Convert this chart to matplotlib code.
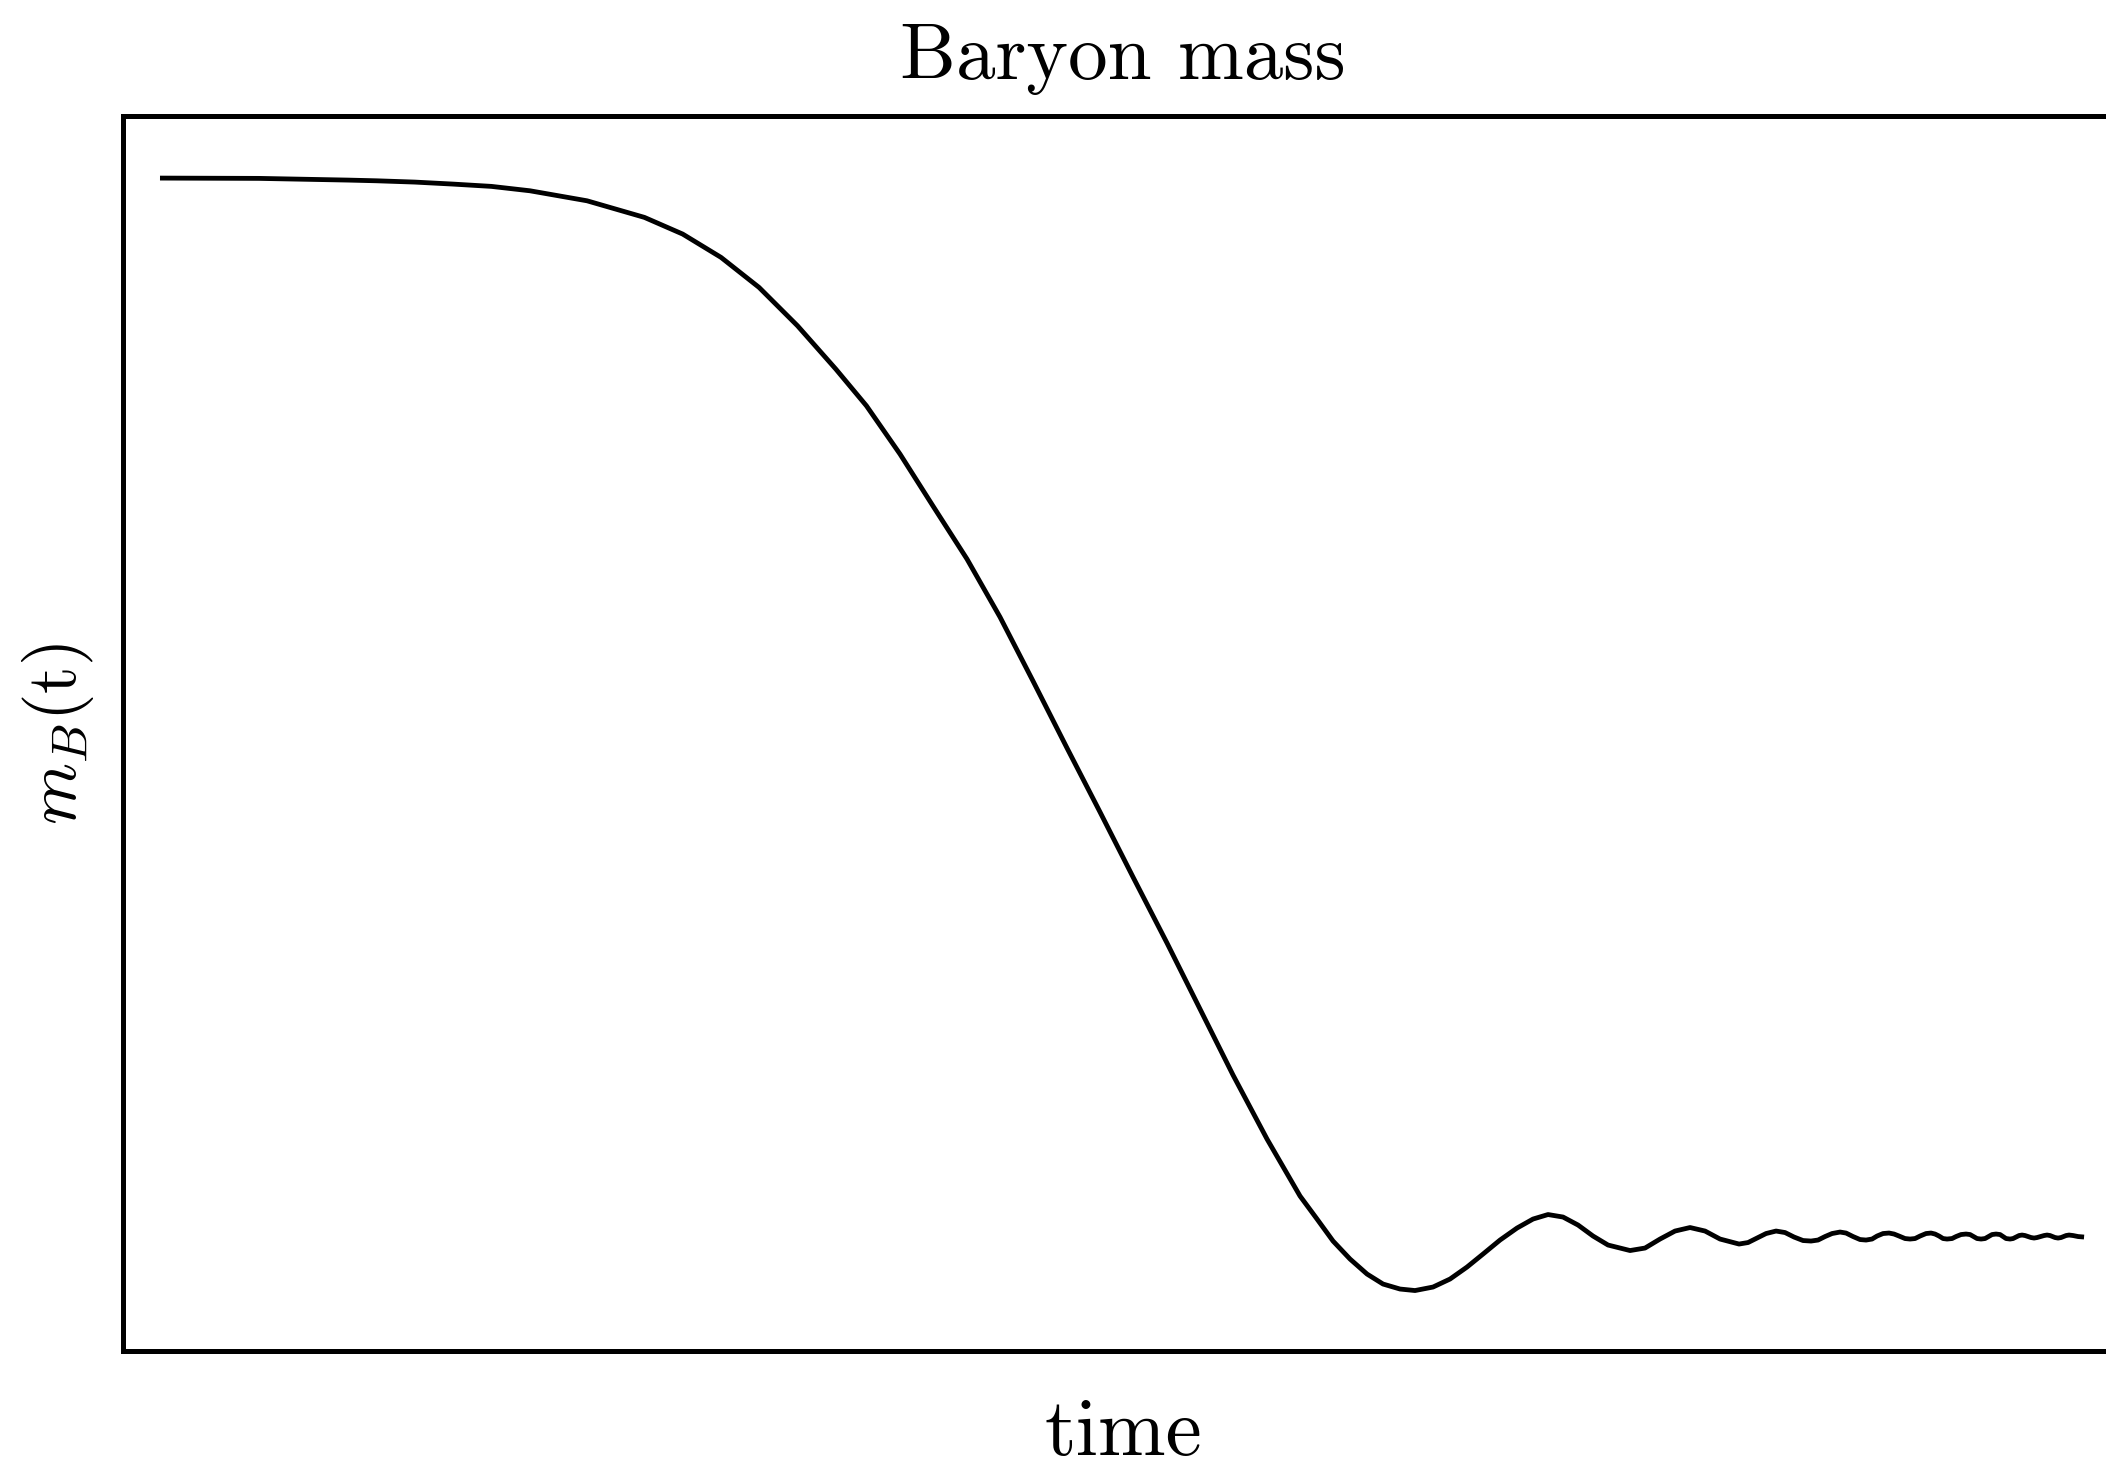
import matplotlib
matplotlib.use("Agg")
import matplotlib.pyplot as plt

plt.rcParams["font.family"] = "serif"
plt.rcParams["font.serif"] = ["cmr10"]
plt.rcParams["mathtext.fontset"] = "cm"
plt.rcParams["axes.unicode_minus"] = False

# baryon mass vs time (arbitrary units)
time = [
    0.0, 4.95, 9.4, 10.825, 12.74, 14.65, 16.57, 18.5, 21.35, 24.22,
    26.135, 28.05, 29.95, 31.875, 33.79, 35.32, 37.0, 38.65, 40.35, 42.0,
    43.65, 45.35, 47.0, 48.65, 50.35, 52.0, 53.65, 55.35, 57.0, 57.85,
    58.65, 59.5, 60.35, 61.15, 62.0, 62.75, 63.65, 64.5, 65.35, 66.15,
    67.0, 67.85, 68.65, 69.4, 70.15, 70.9, 71.65, 72.4, 73.5, 74.25,
    75.0, 75.75, 76.5, 77.25, 78.0, 78.95, 79.4, 79.85, 80.3, 80.8,
    81.25, 81.7, 82.15, 82.55, 82.9, 83.25, 83.6, 84.0, 84.3, 84.65,
    85.0, 85.3, 85.6, 85.85, 86.15, 86.45, 86.7, 86.95, 87.25, 87.5,
    87.75, 88.0, 88.3, 88.55, 88.75, 88.95, 89.15, 89.35, 89.6, 89.8,
    90.05, 90.3, 90.5, 90.675, 90.85, 91.05, 91.25, 91.425, 91.6, 91.8,
    92.0, 92.15, 92.3, 92.5, 92.65, 92.8, 92.95, 93.1, 93.25, 93.4,
    93.55, 93.7, 93.85, 94.025, 94.2, 94.35, 94.5, 94.625, 94.75, 94.9,
    95.05, 95.175, 95.3, 95.45, 95.65, 95.9, 96.2,
]
mass = [
    11.73, 11.727, 11.71, 11.703, 11.69, 11.67, 11.647, 11.603, 11.503, 11.337,
    11.17, 10.937, 10.637, 10.253, 9.82, 9.453, 8.97, 8.45, 7.92, 7.34,
    6.70, 6.03, 5.39, 4.74, 4.08, 3.42, 2.76, 2.12, 1.55, 1.32,
    1.10, 0.92, 0.77, 0.67, 0.62, 0.605, 0.64, 0.72, 0.84, 0.97,
    1.11, 1.23, 1.32, 1.365, 1.34, 1.26, 1.15, 1.06, 1.005, 1.03,
    1.12, 1.20, 1.235, 1.20, 1.12, 1.07, 1.085, 1.13, 1.175, 1.20,
    1.185, 1.14, 1.105, 1.10, 1.11, 1.145, 1.175, 1.19, 1.18, 1.145,
    1.115, 1.11, 1.12, 1.15, 1.175, 1.18, 1.17, 1.15, 1.125, 1.12,
    1.125, 1.15, 1.175, 1.18, 1.17, 1.15, 1.125, 1.12, 1.125, 1.145,
    1.165, 1.17, 1.165, 1.145, 1.125, 1.12, 1.125, 1.145, 1.165, 1.17,
    1.165, 1.145, 1.125, 1.12, 1.125, 1.14, 1.155, 1.16, 1.155, 1.145,
    1.135, 1.13, 1.135, 1.145, 1.155, 1.16, 1.155, 1.145, 1.135, 1.13,
    1.135, 1.145, 1.155, 1.16, 1.155, 1.145, 1.14,
]

fig = plt.figure(figsize=(7.02, 4.893), dpi=300)
ax = fig.add_axes([0.0584, 0.079, 0.9497, 0.8413])
ax.plot(time, mass, color="black", linewidth=1.15,
        solid_joinstyle="round", solid_capstyle="butt")

ax.set_xlim(-1.85, 98.15)
ax.set_ylim(0, 12.35)
ax.set_xticks([])
ax.set_yticks([])
for spine in ax.spines.values():
    spine.set_linewidth(1.2)

ax.set_title("Baryon mass", fontsize=19, pad=9)
ax.set_xlabel("time", fontsize=19.5, labelpad=11)
ax.set_ylabel("$m_B$(t)", fontsize=17, labelpad=6.5)

fig.savefig("out.png", dpi=300)
